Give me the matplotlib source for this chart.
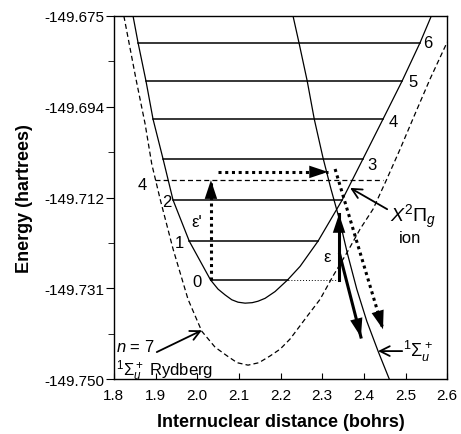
import matplotlib
matplotlib.use("Agg")
import matplotlib.pyplot as plt
import numpy as np

plt.rcParams['font.family'] = ['Liberation Sans', 'DejaVu Sans']
plt.rcParams['mathtext.fontset'] = 'custom'
plt.rcParams['mathtext.rm'] = 'Liberation Sans'
plt.rcParams['mathtext.it'] = 'Liberation Sans:italic'
plt.rcParams['mathtext.bf'] = 'Liberation Sans:bold'

# X2Pi_g ion potential curve (solid)
ion_r = [1.846, 1.858, 1.877, 1.894, 1.918, 1.942, 1.981, 2.032, 2.050, 2.067,
         2.083, 2.098, 2.115, 2.132, 2.146, 2.163, 2.187, 2.217, 2.247, 2.290,
         2.348, 2.398, 2.446, 2.492, 2.535, 2.562]
ion_e = [-149.6750, -149.6805, -149.6884, -149.6963, -149.7045, -149.7130,
         -149.7215, -149.7295, -149.7314, -149.7326, -149.7336, -149.7341,
         -149.7343, -149.7342, -149.7339, -149.7333, -149.7319, -149.7295,
         -149.7267, -149.7215, -149.7130, -149.7045, -149.6963, -149.6884,
         -149.6805, -149.6750]

# n = 7 Rydberg curve (dashed)
ryd_r = [1.824, 1.853, 1.875, 1.891, 1.911, 1.942, 1.978, 2.011, 2.043, 2.072,
         2.096, 2.122, 2.148, 2.175, 2.199, 2.223, 2.264, 2.295, 2.326, 2.360,
         2.391, 2.422, 2.454, 2.487, 2.523, 2.559, 2.600]
ryd_e = [-149.6750, -149.6880, -149.6973, -149.7056, -149.7128, -149.7231,
         -149.7335, -149.7401, -149.7434, -149.7452, -149.7466, -149.7471,
         -149.7466, -149.7452, -149.7438, -149.7417, -149.7370, -149.7335,
         -149.7287, -149.7238, -149.7190, -149.7149, -149.7089, -149.7025,
         -149.6952, -149.6880, -149.6804]

# repulsive 1Sigma_u+ curve
rep_r = [2.230, 2.244, 2.264, 2.281, 2.302, 2.321, 2.341, 2.361, 2.383, 2.407,
         2.435, 2.463]
rep_e = [-149.6750, -149.6804, -149.6884, -149.6963, -149.7043, -149.7107,
         -149.7169, -149.7242, -149.7314, -149.7380, -149.7444, -149.7504]

# ion vibrational levels v = 0..6
lev_v = ["0", "1", "2", "3", "4", "5", "6"]
lev_e = [-149.7295, -149.7215, -149.7130, -149.7045, -149.6963, -149.6884, -149.6805]
lev_left = [2.032, 1.981, 1.942, 1.918, 1.894, 1.877, 1.858]
lev_right = [2.217, 2.290, 2.348, 2.398, 2.446, 2.492, 2.535]
lev_lx = [1.999, 1.958, 1.927, 2.420, 2.470, 2.518, 2.554]
lev_ly = [-149.7299, -149.7217, -149.7134, -149.7056, -149.6967, -149.6886, -149.6804]

# Rydberg level v = 4
ryd4_e = -149.7089
ryd4_r = [1.8985, 2.4462]

# arrows
eps_p_x, eps_p_e = 2.033, [-149.7295, -149.7089]
horiz_e, horiz_r = -149.7072, [2.050, 2.314]
diag_r, diag_e = [2.331, 2.446], [-149.7066, -149.7397]
eps_x, eps_e = 2.3405, [-149.7295, -149.7159]
down_r, down_e = [2.342, 2.393], [-149.7242, -149.7413]

xticks = [1.8, 1.9, 2.0, 2.1, 2.2, 2.3, 2.4, 2.5, 2.6]
yticks = list(np.linspace(-149.750, -149.675, 5))
ytick_labels = ["-149.750", "-149.731", "-149.712", "-149.694", "-149.675"]

fig = plt.figure(figsize=(4.61, 4.35), dpi=100)
ax = fig.add_axes([0.247, 0.126, 0.723, 0.835])

lw = 0.9
ax.plot(ion_r, ion_e, color='k', lw=lw)
ax.plot(ryd_r, ryd_e, color='k', lw=lw, dashes=(4, 2.5))
ax.plot(rep_r, rep_e, color='k', lw=lw)

for l, r, e in zip(lev_left, lev_right, lev_e):
    ax.plot([l, r], [e, e], color='k', lw=1.1)
for v, x, y in zip(lev_v, lev_lx, lev_ly):
    ax.text(x, y, v, fontsize=12, ha='center', va='center')

ax.plot(ryd4_r, [ryd4_e, ryd4_e], color='k', lw=lw, dashes=(4, 2.5))
ax.text(1.867, -149.7097, "4", fontsize=12, ha='center', va='center')

# thin dotted guide at v=0
ax.plot([lev_right[0], eps_x], [lev_e[0], lev_e[0]], color='k', lw=0.7, ls=(0, (1, 2)))

head = dict(arrowstyle='-|>,head_length=1.35,head_width=0.45', color='k', lw=0,
            shrinkA=0, shrinkB=0, mutation_scale=10)


def arrow_head(x0, y0, x1, y1, frac=0.25):
    # filled head only, the shaft is drawn separately
    ax.annotate('', xy=(x1, y1), xytext=(x1 - (x1 - x0) * frac, y1 - (y1 - y0) * frac),
                arrowprops=head)


dot = dict(color='k', lw=2.2, ls=(0, (1, 1.2)))
ax.plot([eps_p_x, eps_p_x], eps_p_e, **dot)
arrow_head(eps_p_x, eps_p_e[0], eps_p_x, eps_p_e[1])
ax.plot(horiz_r, [horiz_e, horiz_e], **dot)
arrow_head(horiz_r[0], horiz_e, horiz_r[1], horiz_e)
ax.plot(diag_r, diag_e, **dot)
arrow_head(diag_r[0], diag_e[0], diag_r[1], diag_e[1])

ax.plot([eps_x, eps_x], eps_e, color='k', lw=2.2)
arrow_head(eps_x, eps_e[0], eps_x, eps_e[1], frac=0.35)
ax.plot(down_r, down_e, color='k', lw=2.2)
arrow_head(down_r[0], down_e[0], down_r[1], down_e[1], frac=0.3)

ax.text(1.999, -149.7174, "ε'", fontsize=12, ha='center', va='center')
ax.text(2.3117, -149.7246, "ε", fontsize=12, ha='center', va='center')

openarrow = dict(arrowstyle='->,head_length=0.7,head_width=0.35', color='k', lw=1.3,
                 shrinkA=0, shrinkB=0)
ax.annotate('', xy=(2.367, -149.7105), xytext=(2.456, -149.7149), arrowprops=openarrow)
ax.text(2.463, -149.7162, r'$X^2\Pi_g$', fontsize=14, ha='left', va='center')
ax.text(2.510, -149.7207, 'ion', fontsize=12, ha='center', va='center')

ax.annotate('', xy=(2.0114, -149.7399), xytext=(1.903, -149.7444), arrowprops=openarrow)
ax.text(1.805, -149.7432, r'$n$ = 7', fontsize=12, ha='left', va='center')
ax.text(1.805, -149.7480, r'$^1\Sigma_u^+$ Rydberg', fontsize=12, ha='left', va='center')

ax.annotate('', xy=(2.434, -149.7442), xytext=(2.492, -149.7442), arrowprops=openarrow)
ax.text(2.494, -149.7440, r'$^1\Sigma_u^+$', fontsize=13, ha='left', va='center')

ax.set_xlim(1.8, 2.6)
ax.set_ylim(-149.750, -149.675)
ax.set_xticks(xticks)
ax.set_xticklabels([f"{t:.1f}" for t in xticks])
ax.set_yticks(yticks)
ax.set_yticklabels(ytick_labels)
ax.set_yticks([(a + b) / 2 for a, b in zip(yticks[:-1], yticks[1:])], minor=True)
ax.tick_params(axis='x', direction='in', length=4, labelsize=11, pad=6, top=False)
ax.tick_params(axis='y', which='major', direction='out', length=6, labelsize=11, pad=1)
ax.tick_params(axis='y', which='minor', direction='out', length=4)
for s in ax.spines.values():
    s.set_linewidth(1.0)

ax.set_xlabel("Internuclear distance (bohrs)", fontsize=13, fontweight='bold', labelpad=8)
ax.set_ylabel("Energy (hartrees)", fontsize=13, fontweight='bold', labelpad=8)

fig.savefig("out.png", dpi=100)
